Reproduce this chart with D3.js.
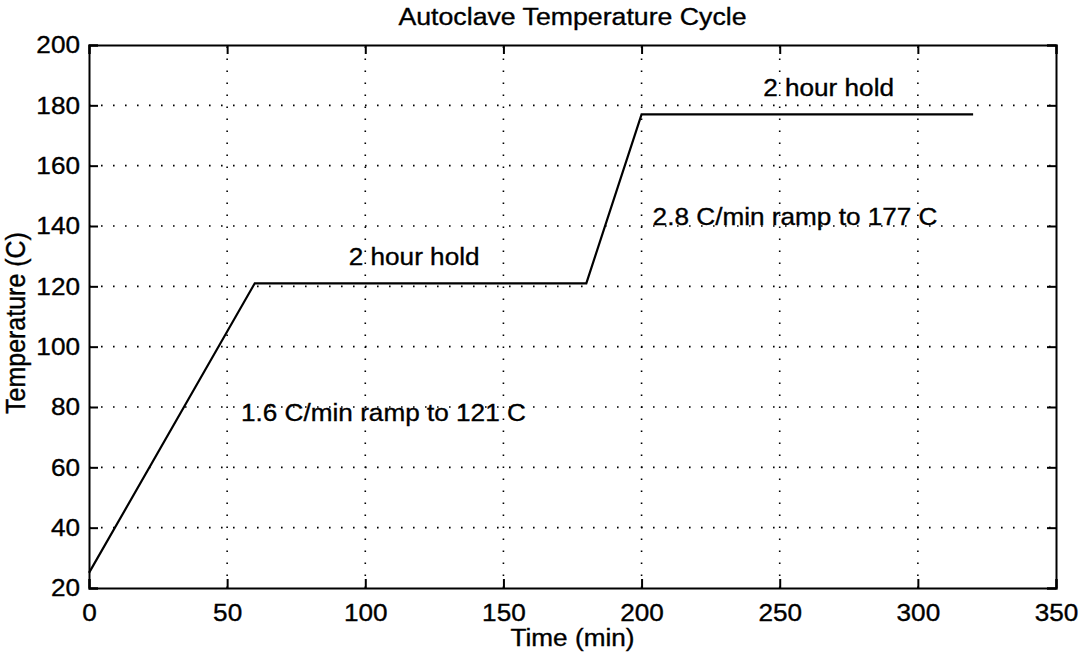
<!DOCTYPE html>
<html>
<head>
<meta charset="utf-8">
<script src="https://cdn.jsdelivr.net/npm/d3@7"></script>
<style>
  html, body { margin: 0; padding: 0; background: #fff; }
  svg { display: block; }
  text { font-family: "Liberation Sans", Arial, Helvetica, sans-serif; fill: #000; stroke: #000; stroke-width: 0.35px; }
</style>
</head>
<body>
<svg id="chart" width="1080" height="660"></svg>
<script>
// Cure cycle profile: time (min) and temperature (C) at each segment break
const timeMin = [0, 60, 180, 200, 320];
const tempC   = [25, 121, 121, 177, 177];

// Axis ticks
const xTicks = [0, 50, 100, 150, 200, 250, 300, 350];
const yTicks = [20, 40, 60, 80, 100, 120, 140, 160, 180, 200];

// Annotations placed in data coordinates
const noteText = ["2 hour hold", "2 hour hold", "1.6 C/min ramp to 121 C", "2.8 C/min ramp to 177 C"];
const noteX    = [94, 244, 55, 204];
const noteY    = [130, 186, 78, 143];

const titleText = "Autoclave Temperature Cycle";
const xLabel = "Time (min)";
const yLabel = "Temperature (C)";

const svg = d3.select("#chart");
const L = 89, R = 1056, T = 45, B = 588;
const fs = 24;      // font size
const sx = 1.09;    // horizontal widening of the lettering

const x = d3.scaleLinear().domain([0, 350]).range([L, R]);
const y = d3.scaleLinear().domain([20, 200]).range([B, T]);

// Move a text's x/y into a transform so it can be widened in place
function widen(sel, extra = "") {
  sel.each(function () {
    const t = d3.select(this);
    const tx = +t.attr("x") || 0, ty = +t.attr("y") || 0;
    t.attr("x", 0).attr("y", 0)
      .attr("transform", `translate(${tx},${ty}) scale(${sx},1)${extra}`);
  });
}

// Dotted grid
const grid = svg.append("g")
  .attr("stroke", "#000")
  .attr("stroke-width", 1.6)
  .attr("stroke-dasharray", "1.6 10.4");
grid.selectAll("line.v").data(xTicks.slice(1, -1)).join("line")
  .attr("x1", d => x(d)).attr("x2", d => x(d))
  .attr("y1", B).attr("y2", T);
grid.selectAll("line.h").data(yTicks.slice(1, -1)).join("line")
  .attr("x1", L).attr("x2", R)
  .attr("y1", d => y(d)).attr("y2", d => y(d));

// Axes with inward ticks on all four sides
const tick = 9;
svg.append("g").attr("transform", `translate(0,${B})`)
  .call(d3.axisBottom(x).tickValues(xTicks).tickSize(-tick).tickPadding(16).tickFormat(d3.format("d")));
svg.append("g").attr("transform", `translate(0,${T})`)
  .call(d3.axisTop(x).tickValues(xTicks).tickSize(-tick).tickFormat(""));
svg.append("g").attr("transform", `translate(${L},0)`)
  .call(d3.axisLeft(y).tickValues(yTicks).tickSize(-tick).tickPadding(9).tickFormat(d3.format("d")));
svg.append("g").attr("transform", `translate(${R},0)`)
  .call(d3.axisRight(y).tickValues(yTicks).tickSize(-tick).tickFormat(""));

svg.selectAll(".domain").attr("stroke", "#000").attr("stroke-width", 2);
svg.selectAll(".tick line").attr("stroke", "#000").attr("stroke-width", 2);
svg.selectAll(".tick text").attr("font-size", fs)
  .attr("font-family", "'Liberation Sans', Arial, Helvetica, sans-serif")
  .attr("fill", "#000").attr("stroke", "#000").attr("stroke-width", 0.35)
  .call(widen);

// Temperature profile
const line = d3.line().x((d, i) => x(timeMin[i])).y(d => y(d));
svg.append("path")
  .datum(tempC)
  .attr("d", line)
  .attr("fill", "none")
  .attr("stroke", "#000")
  .attr("stroke-width", 2.2)
  .attr("stroke-linejoin", "miter");

// Annotations
svg.append("g").selectAll("text").data(noteText).join("text")
  .attr("x", (d, i) => x(noteX[i]))
  .attr("y", (d, i) => y(noteY[i]))
  .attr("dy", "0.35em")
  .attr("font-size", fs)
  .text(d => d)
  .call(widen);

// Titles
svg.append("text")
  .attr("x", (L + R) / 2).attr("y", 25)
  .attr("text-anchor", "middle")
  .attr("font-size", 24.5)
  .text(titleText)
  .call(widen);
svg.append("text")
  .attr("x", (L + R) / 2).attr("y", 646)
  .attr("text-anchor", "middle")
  .attr("font-size", fs)
  .text(xLabel)
  .call(widen);
svg.append("text")
  .attr("x", 25).attr("y", 323)
  .attr("text-anchor", "middle")
  .attr("font-size", 25)
  .text(yLabel)
  .call(widen, " rotate(-90)");
</script>
</body>
</html>
